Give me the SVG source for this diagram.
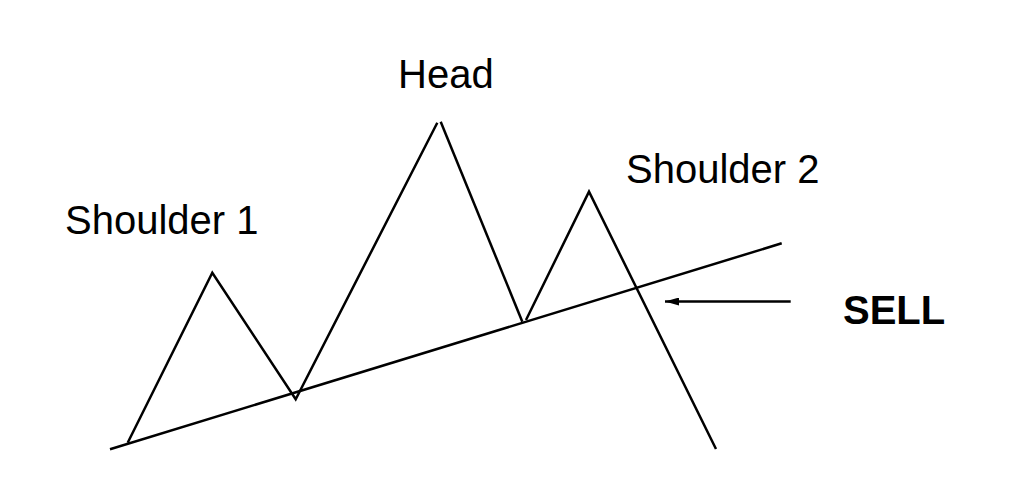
<svg xmlns="http://www.w3.org/2000/svg" width="1024" height="503" viewBox="0 0 1024 503">
  <style>
    .ln { fill: none; stroke: #000; stroke-width: 2.5; stroke-linejoin: miter; stroke-linecap: butt; }
    .lbl { font-family: "Liberation Sans", Arial, sans-serif; font-size: 40px; fill: #000; }
    .sell { font-family: "Liberation Sans", Arial, sans-serif; font-size: 40px; font-weight: bold; fill: #000; }
  </style>
  <defs>
    <marker id="arr" viewBox="0 0 14 8" refX="14" refY="4" markerWidth="14" markerHeight="8" markerUnits="userSpaceOnUse" orient="auto">
      <path d="M0,0 L14,4 L0,8 Z" fill="#000"/>
    </marker>
  </defs>
  <rect width="1024" height="503" fill="#fff"/>
  <g id="connectors">
    <polyline class="ln" points="127.7,442.7 212.3,272.7 295.7,399.3 437.3,122.7"/>
    <polyline class="ln" points="440.7,121.7 522.3,321.7"/>
    <polyline class="ln" points="526,320 589,191.7 716,449"/>
    <line class="ln" x1="110" y1="449.3" x2="781.7" y2="243.3"/>
    <line class="ln" x1="790.7" y1="301.5" x2="665" y2="301.5" marker-end="url(#arr)"/>
  </g>
  <g id="shoulder1"><text class="lbl" x="65" y="234.3">Shoulder 1</text></g>
  <g id="head"><text class="lbl" x="398" y="87.7">Head</text></g>
  <g id="shoulder2"><text class="lbl" x="626" y="183.3">Shoulder 2</text></g>
  <g id="sell"><text class="sell" x="843" y="324.3">SELL</text></g>
</svg>
